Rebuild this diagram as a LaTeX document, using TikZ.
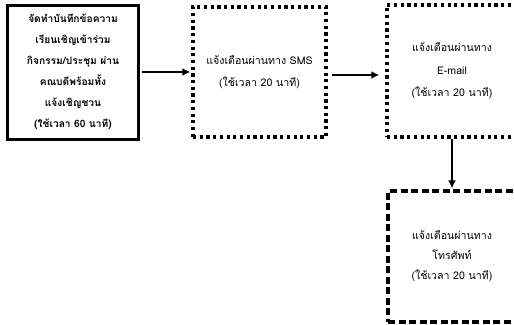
\documentclass[tikz,border=0pt]{standalone}
\usepackage{fontspec}
\setmainfont[Script=Thai]{Loma}
\usetikzlibrary{arrows.meta}
\tikzset{
  boxbase/.style={draw=black, rectangle, align=center, inner sep=0pt, line width=3pt},
  solidbox/.style={boxbase, font=\bfseries\fontsize{10.2}{21}\selectfont},
  dotbox/.style={boxbase, line width=3.4pt, dash pattern=on 3.2pt off 3.5pt, font=\fontsize{10.6}{22.5}\selectfont},
  dashbox/.style={boxbase, line width=3.2pt, dash pattern=on 7pt off 3.5pt, font=\fontsize{10.6}{20}\selectfont},
  flow/.style={line width=2.8pt, -{Latex[length=8pt,width=8pt]}}
}
\begin{document}
\begin{tikzpicture}[x=1pt,y=-1pt]
\useasboundingbox (0,0) rectangle (514,324);
\clip (0,0) rectangle (514,324);
\node[solidbox, minimum width=131pt, minimum height=134pt] (b1) at (73,72)
  {จัดทำบันทึกข้อความ\\เรียนเชิญเข้าร่วม\\กิจกรรม/ประชุม ผ่าน\\คณบดีพร้อมทั้ง\\แจ้งเชิญชวน\\(ใช้เวลา 60 นาที)};
\node[dotbox, minimum width=133pt, minimum height=130pt] (b2) at (259.5,72)
  {แจ้งเตือนผ่านทาง SMS\\(ใช้เวลา 20 นาที)};
\node[dotbox, minimum width=130pt, minimum height=132pt] (b3) at (452,71)
  {แจ้งเตือนผ่านทาง\\E-mail\\(ใช้เวลา 20 นาที)};
\node[dashbox, minimum width=128pt, minimum height=131pt] (b4) at (452,256.5)
  {แจ้งเตือนผ่านทาง\\โทรศัพท์\\(ใช้เวลา 20 นาที)};
\draw[flow, shorten <=2pt, shorten >=1pt] (b1.east) -- (b2.west);
\draw[flow, shorten <=4pt, shorten >=6pt] ([yshift=-3pt]b2.east) -- ([yshift=-4pt]b3.west);
\draw[flow, shorten >=1pt] (b3.south) -- (b4.north);
\end{tikzpicture}
\end{document}
